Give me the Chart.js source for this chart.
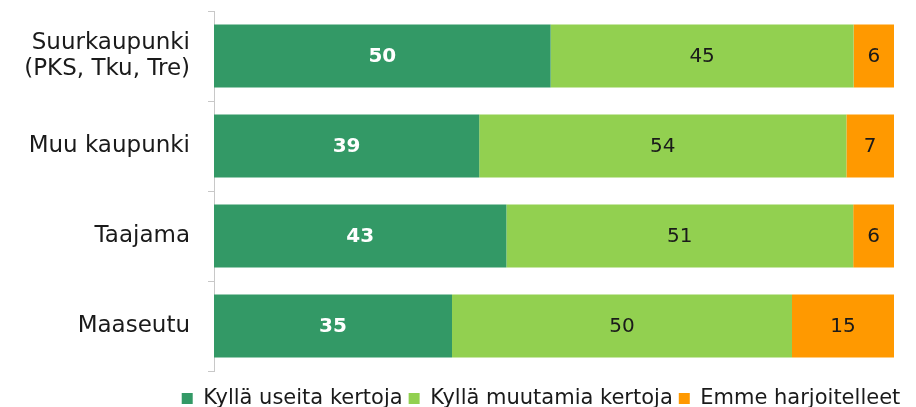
<!DOCTYPE html>
<html>
<head>
<meta charset="utf-8">
<script src="https://cdn.jsdelivr.net/npm/chart.js@4/dist/chart.umd.min.js"></script>
<style>
  html, body { margin: 0; padding: 0; background: #fff; }
  #wrap { width: 916px; height: 407px; }
</style>
</head>
<body>
<div id="wrap"><canvas id="chart" width="916" height="407"></canvas></div>
<script>
// categories and series (percent of respondents)
const categories = [["Suurkaupunki", "(PKS, Tku, Tre)"], "Muu kaupunki", "Taajama", "Maaseutu"];
const seriesNames = ["Kyllä useita kertoja", "Kyllä muutamia kertoja", "Emme harjoitelleet"];
const useita = [50, 39, 43, 35];
const muutamia = [45, 54, 51, 50];
const emme = [6, 7, 6, 15];
const colors = ["#339966", "#92D050", "#FF9900"];

const raw = [useita, muutamia, emme];
// 100 % stacked: each bar is scaled to its own total
const totals = categories.map((_, i) => raw.reduce((s, arr) => s + arr[i], 0));

const FONT = "'DejaVu Sans', Verdana, sans-serif";
const LEGEND_SHIFT = 94; // legend sits under the bars, not under the whole canvas

// value labels in the middle of every segment
const segmentLabels = {
  id: "segmentLabels",
  afterLayout(chart) {
    const lg = chart.legend;
    if (lg) {
      lg.left += LEGEND_SHIFT;
      lg.right += LEGEND_SHIFT;
    }
  },
  afterDatasetsDraw(chart) {
    const ctx = chart.ctx;
    ctx.save();
    ctx.textAlign = "center";
    ctx.textBaseline = "middle";
    chart.data.datasets.forEach((ds, di) => {
      const meta = chart.getDatasetMeta(di);
      meta.data.forEach((bar, i) => {
        const p = bar.getProps(["x", "y", "base"], true);
        const cx = (p.x + p.base) / 2;
        if (di === 0) {
          ctx.fillStyle = "#ffffff";
          ctx.font = "bold 20px " + FONT;
        } else {
          ctx.fillStyle = "#1a1a1a";
          ctx.font = "20px " + FONT;
        }
        ctx.fillText(String(ds.raw[i]), cx, p.y + 1);
      });
    });
    ctx.restore();
  }
};

new Chart(document.getElementById("chart"), {
  type: "bar",
  data: {
    labels: categories,
    datasets: raw.map((arr, k) => ({
      label: seriesNames[k],
      raw: arr,
      data: arr.map((v, i) => v / totals[i] * 100),
      backgroundColor: colors[k],
      borderWidth: 0,
      categoryPercentage: 0.7,
      barPercentage: 1.0
    }))
  },
  options: {
    indexAxis: "y",
    responsive: false,
    animation: false,
    layout: { padding: { top: 11, right: 22, left: 0, bottom: -12 } },
    scales: {
      x: {
        stacked: true,
        min: 0,
        max: 100,
        grid: { display: false },
        border: { display: false },
        ticks: { display: false },
        afterFit(scale) { scale.height = 11; }
      },
      y: {
        stacked: true,
        grid: {
          offset: true,
          drawOnChartArea: false,
          tickLength: 6,
          color: "#c8c8c8"
        },
        border: { display: true, color: "#c8c8c8" },
        ticks: {
          padding: 18,
          color: "#1a1a1a",
          font: { family: FONT, size: 23, lineHeight: 1.1 }
        },
        afterFit(scale) {
          scale.width = 214;
          scale.paddingTop = 0;
          scale.paddingBottom = 0;
        }
      }
    },
    plugins: {
      legend: {
        position: "bottom",
        labels: {
          boxWidth: 11,
          boxHeight: 11,
          padding: 6,
          color: "#1a1a1a",
          font: { family: FONT, size: 21 }
        }
      },
      tooltip: { enabled: false }
    }
  },
  plugins: [segmentLabels]
});
</script>
</body>
</html>
